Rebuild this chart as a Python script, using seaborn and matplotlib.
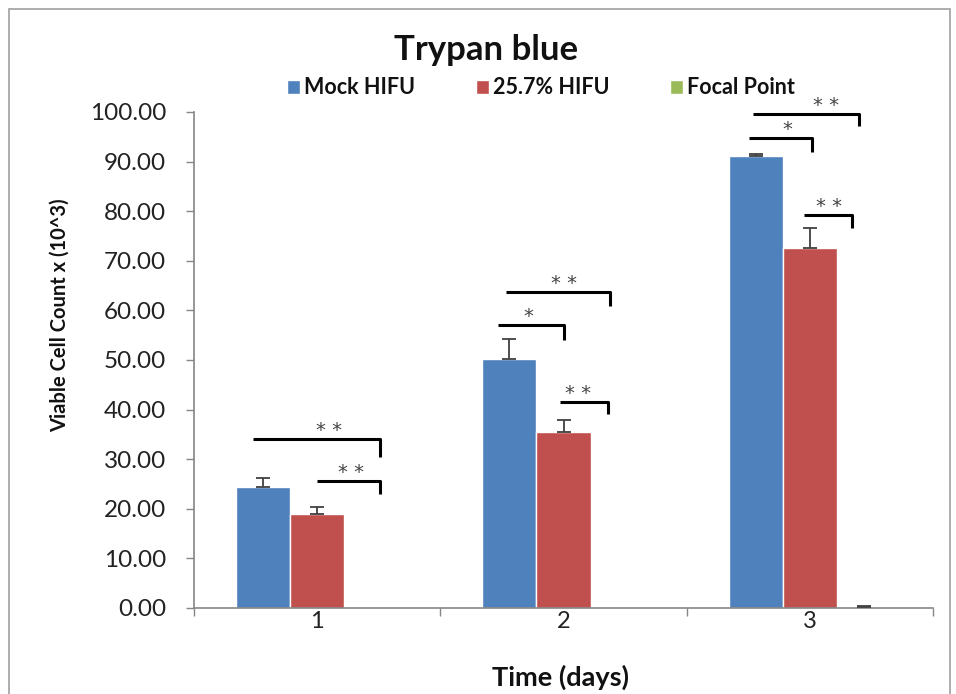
import matplotlib
matplotlib.use("Agg")
import matplotlib.pyplot as plt
import seaborn as sns
import pandas as pd
from matplotlib.patches import Rectangle

days = ["1", "2", "3"]
series = ["Mock HIFU", "25.7% HIFU", "Focal Point"]
mock_vals = [24.4, 50.2, 91.1]
mock_err = [1.8, 4.0, 0.4]
hifu_vals = [19.0, 35.5, 72.6]
hifu_err = [1.4, 2.4, 4.0]
focal_vals = [0.0, 0.0, 0.3]
focal_err = [0.0, 0.0, 0.1]
y_ticks = [0, 10, 20, 30, 40, 50, 60, 70, 80, 90, 100]

colors = ["#4F81BD", "#C0504D", "#9BBB59"]

df = pd.DataFrame({
    "day": days * 3,
    "series": [series[0]] * 3 + [series[1]] * 3 + [series[2]] * 3,
    "value": mock_vals + hifu_vals + focal_vals,
})
errs = [mock_err, hifu_err, focal_err]

sns.set_theme(style="white")
plt.rcParams["font.family"] = ["Lato", "DejaVu Sans"]

fig = plt.figure(figsize=(9.56, 6.94), dpi=100)
ax = fig.add_axes([194 / 956, 1 - 608 / 694, (933 - 194) / 956, (608 - 112) / 694])

sns.barplot(data=df, x="day", y="value", hue="series", order=days,
            hue_order=series, palette=colors, width=0.66, errorbar=None,
            saturation=1, ax=ax, legend=True)

for cont, e in zip(ax.containers, errs):
    pts = [(p.get_x() + p.get_width() / 2, p.get_height(), ev) for p, ev in zip(cont, e) if ev > 0]
    if not pts:
        continue
    xs, ys, es = zip(*pts)
    ax.errorbar(xs, ys, yerr=[[0] * len(es), list(es)], fmt="none", ecolor="#404040",
                elinewidth=1.3, capsize=5, capthick=1.3, zorder=3)

ax.set_xlim(-0.5, 2.5)
ax.set_ylim(0, 100)
ax.set_yticks(y_ticks)
ax.set_yticklabels([f"{v:.2f}" for v in y_ticks])
ax.set_xticks([-0.5, 0.5, 1.5, 2.5], minor=True)
ax.tick_params(axis="x", which="major", length=0, pad=2, labelsize=17, colors="#222222")
ax.tick_params(axis="x", which="minor", length=6, width=1, color="#868686", direction="out", bottom=True)
ax.tick_params(axis="y", length=6, width=1, color="#868686", direction="out", left=True, labelsize=17.5,
               labelcolor="#222222", pad=14)
for s in ["top", "right"]:
    ax.spines[s].set_visible(False)
for s in ["left", "bottom"]:
    ax.spines[s].set_color("#868686")
    ax.spines[s].set_linewidth(1.2)

ax.set_xlabel("Time (days)", fontsize=19.5, fontweight="bold", color="#111111", va="center")
ax.xaxis.set_label_coords((560 - 194) / 739, -(677 - 608) / 496)
ax.set_ylabel("Viable Cell Count x (10^3)", fontsize=14.5, fontweight="bold", color="#111111", va="center")
ax.yaxis.set_label_coords((60 - 194) / 739, (608 - 315) / 496)
fig.text(486 / 956, 1 - 50 / 694, "Trypan blue", ha="center", va="center", fontsize=25,
         fontweight="bold", color="#111111")

handles, labels = ax.get_legend_handles_labels()
ax.legend(handles, labels, loc="center", bbox_to_anchor=((541 - 194) / 739, 1 + (112 - 88) / 496), ncol=3,
          frameon=False, fontsize=15.5, handlelength=0.6, handleheight=0.6, handletextpad=0.2,
          columnspacing=2.8, borderaxespad=0)
for t in ax.get_legend().get_texts():
    t.set_fontweight("bold")
    t.set_color("#111111")

# significance brackets: (x_start, x_end, y_line, y_drop, star_x, label)
brackets = [
    (-0.26, 0.255, 34.1, 30.4, 0.049, "* *"),
    (0.0, 0.255, 25.6, 23.0, 0.138, "* *"),
    (0.765, 1.19, 63.7, 60.9, 1.003, "* *"),
    (0.735, 1.0, 57.1, 54.0, 0.857, "*"),
    (0.985, 1.18, 41.5, 39.1, 1.06, "* *"),
    (1.77, 2.2, 99.6, 97.2, 2.067, "* *"),
    (1.755, 2.01, 94.8, 91.9, 1.908, "*"),
    (1.975, 2.17, 79.2, 76.6, 2.079, "* *"),
]
for x0, x1, yl, yd, sx, lab in brackets:
    ax.plot([x0, x1, x1], [yl, yl, yd], color="black", lw=2.2, solid_capstyle="butt",
            clip_on=False, zorder=4)
    ax.text(sx, yl + 1.7, lab, ha="center", va="center", fontsize=14, color="#444444",
            family="DejaVu Sans")

fig.patches.append(Rectangle((9 / 956, -10 / 694), (950 - 9) / 956, (685 + 10) / 694,
                             transform=fig.transFigure, fill=False, edgecolor="#A0A0A0", lw=1.2))

fig.savefig("out.png", dpi=100)
